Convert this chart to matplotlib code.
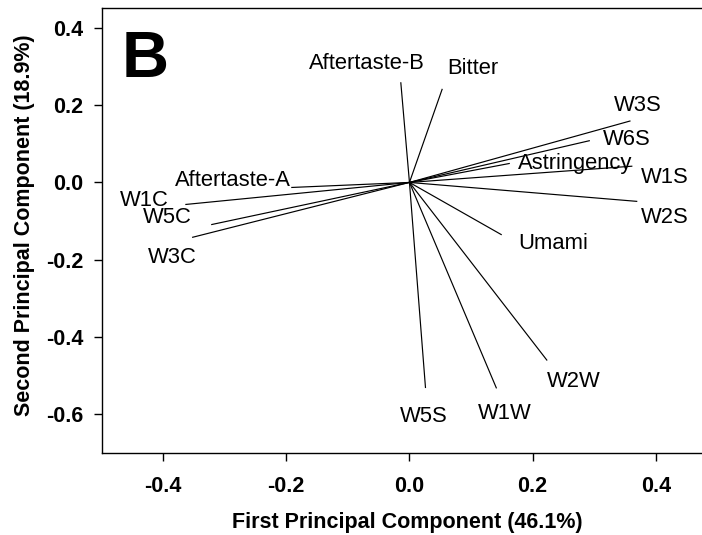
import matplotlib
matplotlib.use("Agg")
import matplotlib.pyplot as plt

plt.rcParams["font.family"] = ["Liberation Sans", "DejaVu Sans"]
plt.rcParams["axes.unicode_minus"] = False

# loadings (end points of the vectors)
names = ["Aftertaste-A", "W1C", "W5C", "W3C", "Aftertaste-B", "Bitter",
         "W3S", "W6S", "Astringency", "W1S", "W2S", "Umami",
         "W5S", "W1W", "W2W"]
pc1 = [-0.191, -0.363, -0.321, -0.352, -0.014, 0.053,
       0.358, 0.292, 0.162, 0.361, 0.369, 0.149,
       0.026, 0.141, 0.223]
pc2 = [-0.013, -0.057, -0.109, -0.142, 0.258, 0.241,
       0.159, 0.108, 0.049, 0.042, -0.049, -0.135,
       -0.531, -0.532, -0.460]

# label anchor points
lab_x = [-0.380, -0.470, -0.432, -0.424, 0.0255, 0.061,
         0.332, 0.314, 0.176, 0.376, 0.376, 0.176,
         -0.015, 0.1115, 0.223]
lab_y = [0.006, -0.046, -0.092, -0.194, 0.309, 0.296,
         0.200, 0.110, 0.050, 0.014, -0.092, -0.157,
         -0.607, -0.598, -0.515]
lab_ha = ["left", "left", "left", "left", "right", "left",
          "left", "left", "left", "left", "left", "left",
          "left", "left", "left"]

xticks = [-0.4, -0.2, 0.0, 0.2, 0.4]
yticks = [-0.6, -0.4, -0.2, 0.0, 0.2, 0.4]

fig = plt.figure(figsize=(7.02, 5.35), dpi=100)
ax = fig.add_axes([0.1446, 0.1538, 0.8554, 0.8307])

for x, y in zip(pc1, pc2):
    ax.plot([0, x], [0, y], color="black", lw=0.85)

for name, x, y, ha in zip(names, lab_x, lab_y, lab_ha):
    ax.text(x, y, name, ha=ha, va="center", fontsize=15.8)

ax.text(-0.467, 0.317, "B", fontsize=47, fontweight="bold", va="center", ha="left")

ax.set_xlim(-0.5, 0.475)
ax.set_ylim(-0.70, 0.451)
ax.set_xticks(xticks)
ax.set_yticks(yticks)
ax.set_xticklabels([f"{v:.1f}" for v in xticks], fontweight="bold", fontsize=15.5)
ax.set_yticklabels([f"{v:.1f}" for v in yticks], fontweight="bold", fontsize=15.5)
ax.tick_params(axis="x", direction="out", length=6, pad=10.5, width=1)
ax.tick_params(axis="y", direction="out", length=6, pad=7, width=1)

ax.spines["right"].set_visible(False)
for s in ["left", "bottom", "top"]:
    ax.spines[s].set_linewidth(1.0)

ax.set_xlabel("First Principal Component (46.1%)", fontsize=15.5, fontweight="bold")
ax.set_ylabel("Second Principal Component (18.9%)", fontsize=15.5, fontweight="bold")
ax.xaxis.set_label_coords(0.510, -0.133)
ax.yaxis.set_label_coords(-0.11, 0.512)

fig.savefig("out.png", dpi=100)
